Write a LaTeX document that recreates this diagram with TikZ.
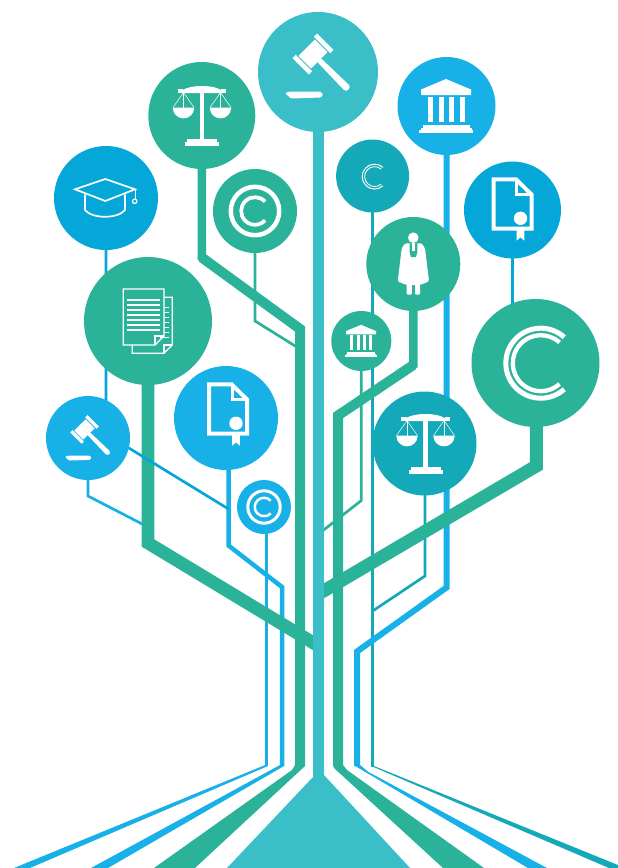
\documentclass[tikz,border=0pt]{standalone}
\usepackage{tikz}
\usetikzlibrary{backgrounds}
\definecolor{leaf}{HTML}{2BB39A}
\definecolor{sky}{HTML}{17B1E8}
\definecolor{azure}{HTML}{05A6D8}
\definecolor{lagoon}{HTML}{13A9B8}
\definecolor{aqua}{HTML}{3ABFC9}
\tikzset{
	disc/.style={circle, inner sep=0pt, minimum size=#1},
	wire/.style={line width=2.7pt, line join=miter},
	limb/.style={line width=#1, line join=miter},
	glyph/.style={draw=white, fill=none, line join=miter}
}
\newcommand{\gavelicon}[2]{
	\begin{scope}[shift={#1}, scale=#2]
		\begin{scope}[shift={(-5,-18)}, rotate=-45]
			\fill[white] (-9,-11.5) rectangle (9,11.5);
			\fill[white] (-11.5,-17.5) rectangle (11.5,-12.8);
			\fill[white] (-11.5,12.8) rectangle (11.5,17.5);
			\fill[white, rounded corners=1.5pt] (8,-2.6) -- (49,-3.6) -- (50.5,0) -- (49,3.6) -- (8,2.6) -- cycle;
		\end{scope}
		\fill[white, rounded corners=1pt] (-33,21) -- (-28,19.5) -- (2,19.5) -- (5,22) -- (3,25.5) -- (-27,26.5) -- cycle;
	\end{scope}
}
\newcommand{\scalesicon}[2]{
	\begin{scope}[shift={#1}, scale=#2]
		\fill[white] (-2.4,-24) rectangle (2.4,25);
		\fill[white] (-15,23.5) rectangle (15,26.5);
		\fill[white] (-17,26) rectangle (17,30);
		\fill[white] (-24.2,-26.5) rectangle (-19,-22.3);
		\fill[white] (24.2,-26.5) rectangle (19,-22.3);
		\fill[white] (-20,-22.3) -- (-20,-25) .. controls (-12,-31) and (12,-31) .. (20,-25) -- (20,-22.3) -- cycle;
		\foreach \sgn in {-1,1} {
			\fill[white] ({\sgn*18.5+10.7},-7.8) arc (0:180:10.7) -- cycle;
			\draw[white, line width=0.5pt] ({\sgn*18.5},-23) -- ({\sgn*18.5-10.5},-8);
			\draw[white, line width=0.5pt] ({\sgn*18.5},-23) -- ({\sgn*18.5+10.5},-8);
			\draw[white, line width=0.5pt] ({\sgn*18.5},-23) -- ({\sgn*18.5},-8);
		}
	\end{scope}
}
\newcommand{\bankicon}[2]{
	\begin{scope}[shift={#1}, scale=#2]
		\fill[white] (0,-27) -- (25,-16.5) -- (25,-11) -- (-25,-11) -- (-25,-16.5) -- cycle;
		\foreach \col in {-18,-7,3,14} {
			\fill[white] (\col,-9.5) rectangle ++(5,25);
		}
		\fill[white] (-23.5,19) rectangle (23.5,22);
		\fill[white] (-25.5,22) rectangle (25.5,24.5);
		\fill[white] (-27,24) rectangle (27,27);
	\end{scope}
}
\newcommand{\certicon}[1]{
	\begin{scope}[shift={#1}]
		\draw[glyph, line width=4pt] (-19,-30.7) -- (3.5,-30.7) -- (19,-15.5) -- (19,18.7) -- (-19,18.7) -- cycle;
		\draw[glyph, line width=3pt] (4,-30.7) -- (4,-15.8) -- (19,-15.8);
		\fill[white] (4.2,18) -- (4.2,30.7) -- (8,27.3) -- (11.8,30.7) -- (11.8,18) -- cycle;
		\fill[white] (8,8.3) circle (6.7);
	\end{scope}
}
\newcommand{\copyicon}[2]{
	\begin{scope}[shift={#1}, scale=#2]
		\draw[white, line width=4.5*#2] (0,0) circle (24.2);
		\draw[white, line width=3.7*#2] ([shift={(-43:13.8)}]0,0) arc (-43:-317:13.8);
	\end{scope}
}
\newcommand{\ceeicon}[3]{
	\begin{scope}[shift={#1}, scale=#2]
		\draw[white, line width=5*#3] ([shift={(-48:35)}]0,0) arc (-48:-312:35);
		\draw[white, line width=4.3*#3] ([shift={(-48:28)}]0,0) arc (-48:-312:28);
	\end{scope}
}
\begin{document}
\begin{tikzpicture}[x=1pt, y=-1pt]
	\useasboundingbox (0,0) rectangle (618,868);
	% the round heads
	\node[disc=120pt, fill=aqua] (gavelT) at (318,72) {};
	\node[disc=107pt, fill=leaf] (scalesL) at (201.8,115.5) {};
	\node[disc=104pt, fill=azure] (cap) at (106,198) {};
	\node[disc=84pt, fill=leaf] (ringT) at (255,211) {};
	\node[disc=128pt, fill=leaf] (docs) at (148,321) {};
	\node[disc=84pt, fill=sky] (gavelS) at (88,438) {};
	\node[disc=104pt, fill=sky] (certL) at (226,418) {};
	\node[disc=54pt, fill=sky] (ringS) at (264,507) {};
	\node[disc=98pt, fill=sky] (bankT) at (446.5,106) {};
	\node[disc=73pt, fill=lagoon] (ceeS) at (372.6,176) {};
	\node[disc=97pt, fill=azure] (certR) at (512.5,210) {};
	\node[disc=94pt, fill=leaf] (judge) at (413.3,264) {};
	\node[disc=60pt, fill=leaf] (bankS) at (361.3,341) {};
	\node[disc=128pt, fill=leaf] (ceeB) at (535.5,363) {};
	\node[disc=104pt, fill=lagoon] (scalesR) at (424.5,443.5) {};
	% bends of the branches
	\coordinate (a1) at (201.8,257.5);
	\coordinate (a2) at (300,329);
	\coordinate (a3) at (300,766);
	\coordinate (b1) at (255,321);
	\coordinate (b2) at (300,349);
	\coordinate (c1) at (148,543);
	\coordinate (c2) at (318.5,646);
	\coordinate (d1) at (106,434);
	\coordinate (d2) at (228.5,509);
	\coordinate (e1) at (88,496);
	\coordinate (e2) at (148,527);
	\coordinate (f1) at (228.5,545.5);
	\coordinate (f2) at (282,587);
	\coordinate (f3) at (282,766);
	\coordinate (g1) at (266.5,766);
	\coordinate (h1) at (446.5,587.5);
	\coordinate (h2) at (357,651.5);
	\coordinate (h3) at (357,766);
	\coordinate (i1) at (372.6,767);
	\coordinate (j1) at (413.3,365);
	\coordinate (j2) at (338,415.5);
	\coordinate (j3) at (338,766);
	\coordinate (k1) at (361.3,500.5);
	\coordinate (k2) at (318.5,534);
	\coordinate (l1) at (425,576);
	\coordinate (l2) at (372.6,611);
	\coordinate (m1) at (536.3,466);
	\coordinate (m2) at (318.5,594);
	\coordinate (n1) at (512.5,320);
	\coordinate (t1) at (318.5,778);
	\begin{pgfonlayer}{background}
		% thin wires first
		\draw[wire, sky] (gavelS.center) -- (e1) -- (e2);
		\draw[wire, sky] (ringS.center -| g1) -- (g1);
		\draw[limb=4.5pt, sky] (certL.center -| f1) -- (f1) -- (f2) -- (f3);
		\draw[wire, azure] (certR.center) -- (n1);
		\draw[wire, lagoon] (ceeS.center) -- (i1);
		\draw[wire, lagoon] (scalesR.center -| l1) -- (l1) -- (l2);
		\draw[wire, leaf] (ringT.center) -- (b1) -- (b2);
		\draw[wire, leaf] (bankS.center) -- (k1) -- (k2);
		\draw[limb=6pt, sky] (bankT.center) -- (h1) -- (h2) -- (h3);
		% the thick limbs
		\draw[limb=8.4pt, leaf] (scalesL.center) -- (a1) -- (a2);
		\draw[limb=10pt, leaf] (a1) -- (a2) -- (a3);
		\draw[limb=8.4pt, leaf] (judge.center) -- (j1) -- (j2);
		\draw[limb=10pt, leaf] (j1) -- (j2) -- (j3);
		\draw[limb=12.8pt, leaf] (docs.center) -- (c1) -- (c2);
		\draw[limb=13pt, leaf] (ceeB.center -| m1) -- (m1) -- (m2);
		\draw[wire, azure] (cap.center) -- (d1) -- (d2);
		\draw[limb=11pt, aqua] (gavelT.center -| t1) -- (t1);
		% the roots
		\fill[sky] (265.2,765) -- (268,766) -- (30,868) -- (14,868) -- cycle;
		\fill[sky] (280,765) -- (284,766) -- (108,868) -- (91,868) -- cycle;
		\fill[leaf] (295,765) -- (292,770) -- (154,868) -- (195,868) -- (305,766) -- cycle;
		\fill[aqua] (313,777) -- (324,775) -- (410,868) -- (227,868) -- cycle;
		\fill[leaf] (333,765) -- (334,768) -- (443,868) -- (484,868) -- (347,770) -- (343,765) -- cycle;
		\fill[sky] (353.5,765) -- (528,868) -- (547,868) -- (368.5,772) -- (360,765) -- cycle;
		\fill[lagoon] (371.2,766) -- (374,766) -- (618,865) -- (618,868) -- (609,868) -- cycle;
	\end{pgfonlayer}
	% white signs on the heads
	\gavelicon{(318,72)}{1}
	\gavelicon{(88,442)}{0.7}
	\scalesicon{(202,115.5)}{1}
	\scalesicon{(425.5,443.5)}{1}
	\bankicon{(446,106)}{1}
	\bankicon{(361,341)}{0.6}
	\certicon{(512.5,210)}
	\certicon{(228,415)}
	\copyicon{(255,211)}{1}
	\copyicon{(264,507)}{0.67}
	\ceeicon{(540.8,363.2)}{1}{1}
	\ceeicon{(374.6,176.6)}{0.355}{0.2}
	% mortar board
	\draw[glyph, line width=1.7pt] (75,189.3) -- (105.3,179) -- (135,189.3) -- (105.3,201) -- cycle;
	\draw[glyph, line width=1.7pt] (85,194.5) -- (85,210) .. controls (92,219) and (118,219) .. (125,210) -- (125,194.5);
	\draw[glyph, line width=1pt] (135,189.3) -- (135,199);
	\draw[glyph, line width=1.2pt] (134.7,201.3) circle (2.2);
	% judge
	\fill[white] (413.3,237.7) circle (5.3);
	\fill[white, rounded corners=1.5pt] (405,243.3) -- (421.7,243.3) -- (425,248.3) -- (429,281.5) -- (420,285) -- (406.7,285) -- (397.7,281.5) -- (401.7,248.3) -- cycle;
	\fill[white, rounded corners=1pt] (406.7,284) rectangle (411.9,294.5);
	\fill[white, rounded corners=1pt] (415,284) rectangle (420,294.5);
	\fill[leaf] (409.5,243.3) -- (417.3,243.3) -- (417.3,252) -- (416,257) -- (411,257) -- (409.5,252) -- cycle;
	\fill[white] (411.8,243.3) -- (415,243.3) -- (415,251) -- (411.8,251) -- cycle;
	% paper stack
	\draw[glyph, line width=1.2pt] (164,297.3) -- (172.3,297.3) -- (172.3,345) -- (164,353.3) -- (132.3,353.3) -- (132.3,345);
	\draw[glyph, line width=1.2pt] (164,353.3) -- (164,345) -- (172.3,345);
	\draw[glyph, line width=1.2pt] (123.3,289) -- (164,289) -- (164,336) -- (155,345) -- (123.3,345) -- cycle;
	\draw[glyph, line width=1.2pt] (155,345) -- (155,336) -- (164,336);
	\foreach \rowy in {300,305,...,330} {
		\draw[white, line width=1.3pt] (127.3,\rowy) -- (160.3,\rowy);
	}
	\foreach \rowy in {307.3,312.3,...,332.3} {
		\draw[white, line width=1.1pt] (164,\rowy) -- (168.5,\rowy);
	}
	\draw[white, line width=1.1pt] (160,337.3) -- (168.5,337.3);
\end{tikzpicture}
\end{document}
